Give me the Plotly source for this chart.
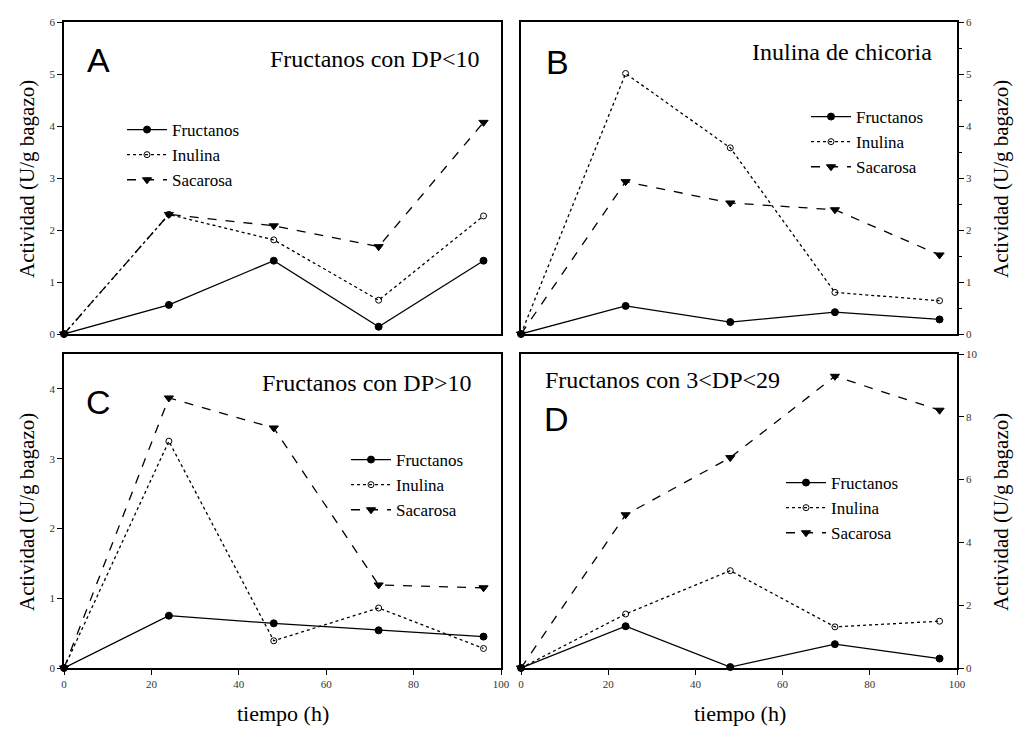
import plotly.graph_objects as go

tiempo = [0, 24, 48, 72, 96]

# Panel A: Fructanos con DP<10
a_fructanos = [0, 0.56, 1.41, 0.14, 1.41]
a_inulina = [0, 2.30, 1.81, 0.65, 2.27]
a_sacarosa = [0, 2.30, 2.08, 1.68, 4.07]

# Panel B: Inulina de chicoria
b_fructanos = [0, 0.54, 0.23, 0.42, 0.28]
b_inulina = [0, 5.01, 3.58, 0.80, 0.64]
b_sacarosa = [0, 2.93, 2.52, 2.39, 1.52]

# Panel C: Fructanos con DP>10
c_fructanos = [0, 0.75, 0.64, 0.54, 0.45]
c_inulina = [0, 3.25, 0.39, 0.86, 0.28]
c_sacarosa = [0, 3.87, 3.44, 1.19, 1.15]

# Panel D: Fructanos con 3<DP<29
d_fructanos = [0, 1.33, 0.03, 0.76, 0.30]
d_inulina = [0, 1.72, 3.10, 1.31, 1.49]
d_sacarosa = [0, 4.88, 6.70, 9.29, 8.21]

series_names = ["Fructanos", "Inulina", "Sacarosa"]
panel_titles = ["Fructanos con DP<10", "Inulina de chicoria", "Fructanos con DP>10", "Fructanos con 3<DP<29"]
panel_letters = ["A", "B", "C", "D"]
x_ticks = [0, 20, 40, 60, 80, 100]

W, H = 1020, 731
SERIF = "Liberation Serif"
SANS = "Liberation Sans"


def px_x(v):
    return v / W


def px_y(v):
    return 1 - v / H


styles = [
    dict(dash="solid", symbol="circle", size=7),
    dict(dash="dot", symbol="circle-open", size=6),
    dict(dash="dash", symbol="triangle-down", size=8),
]

panels = [
    (a_fructanos, a_inulina, a_sacarosa),
    (b_fructanos, b_inulina, b_sacarosa),
    (c_fructanos, c_inulina, c_sacarosa),
    (d_fructanos, d_inulina, d_sacarosa),
]

fig = go.Figure()

legend_ids = ["legend", "legend2", "legend3", "legend4"]
for pi, data in enumerate(panels):
    ax = "" if pi == 0 else str(pi + 1)
    for si, vals in enumerate(data):
        st = styles[si]
        fig.add_trace(go.Scatter(
            x=tiempo, y=vals, name=series_names[si], mode="lines+markers",
            line=dict(color="black", width=1.3, dash=st["dash"]),
            marker=dict(symbol=st["symbol"], size=st["size"], color="black",
                        line=dict(color="black", width=1)),
            xaxis="x" + ax, yaxis="y" + ax, legend=legend_ids[pi],
            cliponaxis=False,
        ))

# domains (pixel based)
colx = [(64, 501), (521, 957)]
rowy = [(22, 334), (354, 668)]

axis_common = dict(showline=True, linecolor="black", linewidth=1.5, mirror=True,
                   showgrid=False, zeroline=False, automargin=False,
                   tickfont=dict(family=SERIF, size=11, color="#333"),
                   ticks="outside", ticklen=5, tickwidth=1, tickcolor="black")

yranges = [(0, 6, 1), (0, 6, 1), (0, 4.5, 1), (0, 10, 2)]

layout = {}
for pi in range(4):
    ax = "" if pi == 0 else str(pi + 1)
    col = pi % 2
    row = pi // 2
    x0, x1 = colx[col]
    y0, y1 = rowy[row]
    xa = dict(axis_common)
    xa.update(domain=[px_x(x0), px_x(x1)], range=[0, 100], tickvals=x_ticks,
              anchor="y" + ax)
    if row == 0:
        xa.update(showticklabels=False, ticks="")
    ya = dict(axis_common)
    lo, hi, dt = yranges[pi]
    ya.update(domain=[px_y(y1), px_y(y0)], range=[lo, hi], dtick=dt, tick0=0,
              anchor="x" + ax, side="left" if col == 0 else "right")
    if pi == 1:
        ya.update(minor=dict(dtick=0.5, ticks="outside", ticklen=3, tickcolor="black"))
    layout["xaxis" + ax] = xa
    layout["yaxis" + ax] = ya

# legends
legend_pos = [(122, 112), (806, 99), (346, 442), (781, 465)]
for pi, lid in enumerate(legend_ids):
    lx, ly = legend_pos[pi]
    layout[lid] = dict(x=px_x(lx), y=px_y(ly), xanchor="left", yanchor="top",
                       xref="paper", yref="paper",
                       font=dict(family=SERIF, size=17, color="black"),
                       bgcolor="rgba(0,0,0,0)", itemwidth=40, tracegroupgap=0)

fig.update_layout(**layout)

ann = []
letter_pos = [(98, 60), (557, 62), (98, 402), (556, 419)]
for pi, (lx, ly) in enumerate(letter_pos):
    ann.append(dict(x=px_x(lx), y=px_y(ly), xref="paper", yref="paper",
                    xanchor="center", yanchor="middle",
                    text=panel_letters[pi], showarrow=False,
                    font=dict(family=SANS, size=34, color="black")))

title_pos = [(482, 59, "right"), (934, 52, "right"), (474, 383, "right"), (543, 380, "left")]
for pi, (tx, ty, anc) in enumerate(title_pos):
    ann.append(dict(x=px_x(tx), y=px_y(ty), xref="paper", yref="paper",
                    text=panel_titles[pi], showarrow=False, xanchor=anc,
                    yanchor="middle",
                    font=dict(family=SERIF, size=24, color="black")))

ytitle = "Actividad (U/g bagazo)"
for (tx, ty) in [(27, 179), (27, 512), (1001, 179), (1001, 512)]:
    ann.append(dict(x=px_x(tx), y=px_y(ty), xref="paper", yref="paper",
                    xanchor="center", yanchor="middle",
                    text=ytitle, showarrow=False, textangle=-90,
                    font=dict(family=SERIF, size=21, color="black")))
for tx in [283, 740]:
    ann.append(dict(x=px_x(tx), y=px_y(713), xref="paper", yref="paper",
                    xanchor="center", yanchor="middle",
                    text="tiempo (h)", showarrow=False,
                    font=dict(family=SERIF, size=22, color="black")))

fig.update_layout(annotations=ann, width=W, height=H,
                  margin=dict(l=0, r=0, t=0, b=0, autoexpand=False),
                  paper_bgcolor="white", plot_bgcolor="white", showlegend=True)

fig.write_html("out.html", config=dict(displayModeBar=False),
               post_script="document.body.style.margin='0';document.body.style.overflow='hidden';")
